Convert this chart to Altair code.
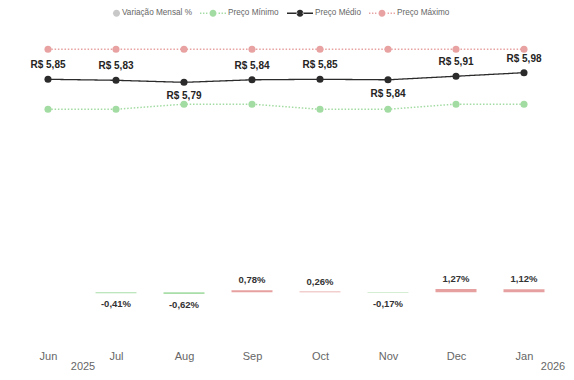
import altair as alt
import pandas as pd

# ---------------- data ----------------
months = ["Jun", "Jul", "Aug", "Sep", "Oct", "Nov", "Dec", "Jan"]
preco_medio = [5.85, 5.83, 5.79, 5.84, 5.85, 5.84, 5.91, 5.98]
preco_minimo = [5.26, 5.26, 5.36, 5.36, 5.26, 5.26, 5.36, 5.36]
preco_maximo = [6.44, 6.44, 6.44, 6.44, 6.44, 6.44, 6.44, 6.44]
variacao_months = ["Jul", "Aug", "Sep", "Oct", "Nov", "Dec", "Jan"]
variacao = [-0.41, -0.62, 0.78, 0.26, -0.17, 1.27, 1.12]
years = ["2025", "2026"]
year_first_month = ["Jun", "Jan"]
series = ["Variação Mensal %", "Preço Mínimo", "Preço Médio", "Preço Máximo"]
labels_below = ["Aug", "Nov"]

# ---------------- styling ----------------
C_GRAY = "#C8C8C8"
C_GREEN = "#A3DCA3"
C_BLACK = "#2B2B2B"
C_PINK = "#E8A2A2"
BAR_POS = "#E6A0A0"
BAR_NEG = "#A9DEA9"
FONT = "Liberation Sans"

W, H = 550, 320
idx = {m: i for i, m in enumerate(months)}

price = pd.DataFrame({
    "idx": list(range(len(months))),
    "month": months,
    "min": preco_minimo,
    "mean": preco_medio,
    "max": preco_maximo,
})
price["mean_label"] = ["R$ " + f"{v:.2f}".replace(".", ",") for v in preco_medio]
price["below"] = [m in labels_below for m in months]

var = pd.DataFrame({
    "idx": [idx[m] for m in variacao_months],
    "value": variacao,
})
var["label"] = [f"{v:.2f}".replace(".", ",") + "%" for v in variacao]

yr = pd.DataFrame({"idx": [idx[m] for m in year_first_month], "year": years})

label_expr = "[" + ",".join("'" + m + "'" for m in months) + "][datum.value]"
X = alt.X(
    "idx:Q",
    scale=alt.Scale(domain=[-0.5882, 7.5], nice=False, zero=False, padding=0),
    axis=alt.Axis(
        values=list(range(len(months))),
        labelExpr=label_expr,
        domain=False, ticks=False, grid=False, title=None,
        labelFont=FONT, labelFontSize=11, labelColor="#666666",
        labelPadding=10,
    ),
)

price_scale = alt.Scale(domain=[0.718, 7.017], nice=False, zero=False, padding=0)
bar_scale = alt.Scale(domain=[-18.35, 104.7], nice=False, zero=False, padding=0)

layers = []

# bars
base_var = alt.Chart(var)
layers.append(
    base_var.mark_bar(size=41).encode(
        x=X,
        y=alt.Y("value:Q", scale=bar_scale, axis=None),
        color=alt.condition("datum.value < 0", alt.value(BAR_NEG), alt.value(BAR_POS)),
    )
)
layers.append(
    base_var.transform_filter("datum.value >= 0").mark_text(
        font=FONT, fontSize=9.5, fontWeight="bold", color="#333333", baseline="middle", dy=-10
    ).encode(x=X, y=alt.Y("value:Q", scale=bar_scale, axis=None), text="label:N")
)
layers.append(
    base_var.transform_filter("datum.value < 0").mark_text(
        font=FONT, fontSize=9.5, fontWeight="bold", color="#333333", baseline="middle", dy=11
    ).encode(x=X, y=alt.Y("value:Q", scale=bar_scale, axis=None), text="label:N")
)

# price lines
base_p = alt.Chart(price)
for col, colr, dash, width in [
    ("max", C_PINK, [1.5, 1.8], 1.5),
    ("min", C_GREEN, [1.5, 1.8], 1.5),
    ("mean", C_BLACK, [1, 0], 1.3),
]:
    Y = alt.Y(f"{col}:Q", scale=price_scale, axis=None)
    layers.append(base_p.mark_line(color=colr, strokeDash=dash, strokeWidth=width).encode(x=X, y=Y))
    layers.append(base_p.mark_circle(color=colr, size=50, opacity=1).encode(x=X, y=Y))

Ym = alt.Y("mean:Q", scale=price_scale, axis=None)
layers.append(
    base_p.transform_filter("!datum.below").mark_text(
        font=FONT, fontSize=10, fontWeight="bold", color="#252423", baseline="middle", dy=-14
    ).encode(x=X, y=Ym, text="mean_label:N")
)
layers.append(
    base_p.transform_filter("datum.below").mark_text(
        font=FONT, fontSize=10, fontWeight="bold", color="#252423", baseline="middle", dy=14
    ).encode(x=X, y=Ym, text="mean_label:N")
)

# year labels (hierarchical axis level)
base_y = alt.Chart(yr)
for yname, dx in [(years[0], 35), (years[1], 29)]:
    layers.append(
        base_y.transform_filter(alt.datum.year == yname).mark_text(
            font=FONT, fontSize=11, color="#666666", baseline="middle", dx=dx, clip=False
        ).encode(x=X, y=alt.value(H + 27), text="year:N")
    )

# legend (custom symbols)
def circ(cx, r):
    return (f"M{cx - r:.3f},0A{r},{r} 0 1,0 {cx + r:.3f},0"
            f"A{r},{r} 0 1,0 {cx - r:.3f},0Z")

def dots():
    xs = [-1.0, -0.77, -0.54, 0.43, 0.66, 0.89]
    return "".join(f"M{x:.2f},-0.054h0.108v0.108h-0.108Z" for x in xs)

R = 0.27
paths = [
    circ(0.73, R),
    dots() + circ(0, R),
    "M-1,-0.06H-0.2V0.06H-1Z M0.2,-0.06H1V0.06H0.2Z" + circ(0, R),
    dots() + circ(0, R),
]
leg = alt.Legend(
    title=None, orient="none", legendX=86, legendY=-20, direction="horizontal",
    symbolSize=676, symbolStrokeWidth=0, symbolOpacity=1,
    labelFont=FONT, labelFontSize=8.2, labelColor="#666666",
    labelOffset=2, columnPadding=8, padding=0,
)
layers.append(
    alt.Chart(pd.DataFrame({"series": series})).transform_filter("false").mark_point(
        filled=True, strokeWidth=0
    ).encode(
        color=alt.Color("series:N", scale=alt.Scale(domain=series, range=[C_GRAY, C_GREEN, C_BLACK, C_PINK]), legend=leg),
        shape=alt.Shape("series:N", scale=alt.Scale(domain=series, range=paths), legend=leg),
    )
)

chart = alt.layer(*layers).resolve_scale(y="independent").properties(
    width=W, height=H,
    padding={"left": 0, "top": 12, "right": 8, "bottom": 32},
    autosize="none",
).configure_view(stroke=None)

chart.save("out.html", embed_options={"renderer": "svg", "actions": False})
